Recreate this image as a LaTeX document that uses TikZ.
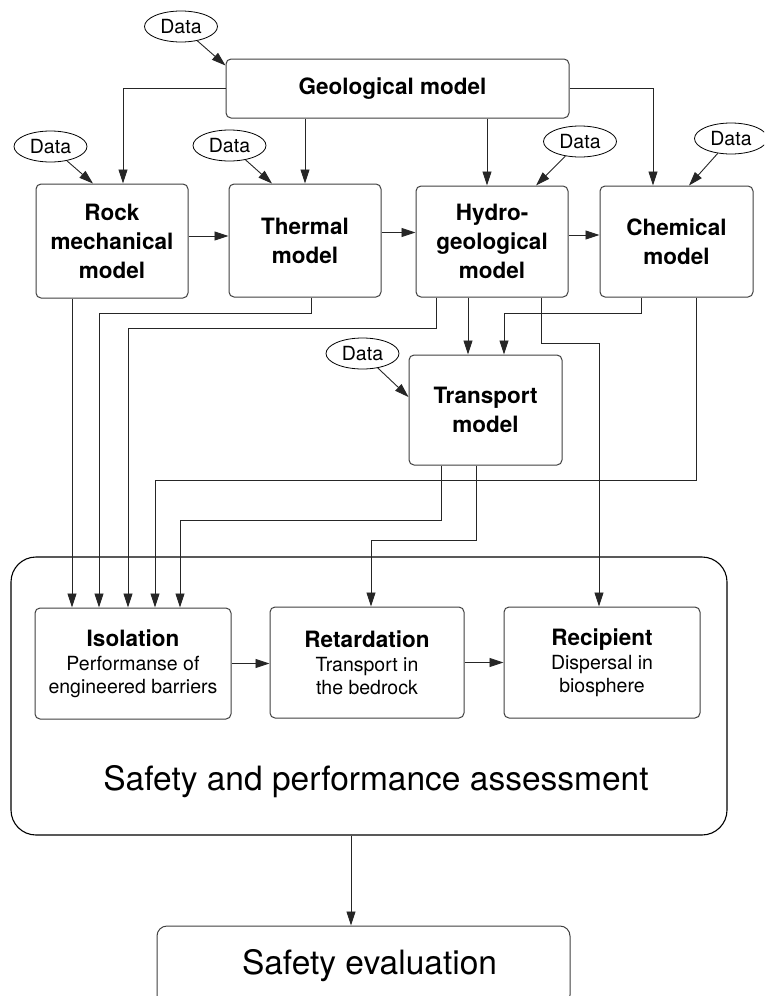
\documentclass[tikz,border=0pt]{standalone}
\usepackage{fontspec}
\setmainfont{TeX Gyre Heros}
\usetikzlibrary{arrows.meta,shapes.geometric}
\newcommand\mytitlef{\fontsize{22.5}{29}\selectfont\bfseries}
\newcommand\mysubf{\fontsize{19.5}{23}\selectfont}
\newcommand\mydataf{\fontsize{19.5}{23}\selectfont}
\newcommand\mybigf{\fontsize{33.5}{40}\selectfont}
\begin{document}
\begin{tikzpicture}[x=1pt,y=-1pt,
 modelbox/.style={draw=black!75, line width=1pt, rounded corners=5pt, align=center, font=\mytitlef, inner sep=0pt},
 assessbox/.style={modelbox, font=\mysubf},
 databubble/.style={ellipse, draw=black, line width=0.8pt, inner sep=0pt, minimum width=73pt, minimum height=31pt, font=\mydataf},
 arr/.style={draw=black!85, line width=0.9pt, -{Triangle[length=14pt,width=9pt]}},
]
\useasboundingbox (0,0) rectangle (764,996);
\clip (0,0) rectangle (764,996);
\fill[white] (0,0) rectangle (764,996);

% model boxes
\node[modelbox, minimum width=343pt, minimum height=59pt] (geo) at (397.5,88.5) {Geological model\hspace{10pt}};
\node[modelbox, minimum width=152pt, minimum height=114pt] (rock) at (112,241) {Rock\\mechanical\\model};
\node[modelbox, minimum width=152pt, minimum height=113pt] (thermal) at (305,240.5) {Thermal\\model};
\node[modelbox, minimum width=152pt, minimum height=111pt] (hydro) at (492,241.5) {Hydro-\\geological\\model};
\node[modelbox, minimum width=153pt, minimum height=111pt] (chem) at (676.5,241.5) {Chemical\\model};
\node[modelbox, minimum width=153pt, minimum height=110pt] (transport) at (485.5,410) {Transport\\model};

% assessment frame
\node[draw=black, line width=1.1pt, rounded corners=25pt, minimum width=716pt, minimum height=278pt, inner sep=0pt] (spa) at (369,696) {};
\node[font=\mybigf, anchor=base, inner sep=0pt] (spat) at (376,790) {Safety and performance assessment};

\node[assessbox, minimum width=196pt, minimum height=111pt] (iso) at (133,663.5) {{\mytitlef Isolation}\\[1pt]Performanse of\\engineered barriers};
\node[assessbox, minimum width=194pt, minimum height=111pt] (ret) at (367,662.5) {{\mytitlef Retardation}\\[1pt]Transport in\\the bedrock};
\node[assessbox, minimum width=196pt, minimum height=111pt] (rec) at (602,662.5) {{\mytitlef Recipient}\\[1pt]Dispersal in\\biosphere};

\node[draw=black!75, line width=1pt, rounded corners=10pt, minimum width=413pt, minimum height=79pt, inner sep=0pt, font=\mybigf] (eval) at (363.5,965.5) {\hspace{12pt}Safety evaluation};

% data bubbles
\node[databubble] (d0) at (181,26.5) {Data};
\node[databubble] (d1) at (50.5,146.5) {Data};
\node[databubble] (d2) at (229.5,145.5) {Data};
\node[databubble] (d3) at (580,141.5) {Data};
\node[databubble] (d4) at (731,138.5) {Data};
\node[databubble] (d5) at (362.5,353.5) {Data};

% data arrows
\draw[arr] (d0) -- ([yshift=-7pt]geo.north west);
\draw[arr] (d1) -- ([xshift=-19pt]rock.north);
\draw[arr] (d2) -- ([xshift=-33pt]thermal.north);
\draw[arr] (d3) -- ([xshift=44pt]hydro.north);
\draw[arr] (d4) -- ([xshift=12.5pt]chem.north);
\draw[arr] (d5) -- ([yshift=13pt]transport.west);

% geological model outputs
\draw[arr] (geo.west) -| ([xshift=11pt]rock.north);
\draw[arr] (geo.east) -| ([xshift=-23.5pt]chem.north);
\draw[arr] (geo.south -| thermal.north) -- (thermal.north);
\coordinate (hN) at ([xshift=-5pt]hydro.north);
\draw[arr] (hN |- geo.south) -- (hN);

% horizontal links
\coordinate (rtA) at ([yshift=5pt]rock.east);
\draw[arr] (rtA) -- (rtA -| thermal.west);
\coordinate (thA) at ([yshift=8pt]thermal.east);
\draw[arr] (thA) -- (thA -| hydro.west);
\coordinate (hcA) at ([yshift=6.5pt]hydro.east);
\draw[arr] (hcA) -- (hcA -| chem.west);

% to isolation
\coordinate (r1) at ([xshift=-40pt]rock.south);
\draw[arr] (r1) -- (r1 |- iso.north);
\draw[arr] ([xshift=6pt]thermal.south) -- ++(0,16) -| ([xshift=-34pt]iso.north);
\draw[arr] ([xshift=-56pt]hydro.south) -- ++(0,31) -| ([xshift=-5pt]iso.north);
\draw[arr] ([xshift=19.5pt]chem.south) -- ++(0,183) -| ([xshift=22pt]iso.north);
\draw[arr] ([xshift=-44.5pt]transport.south) -- ++(0,55) -| ([xshift=47pt]iso.north);

% to transport
\coordinate (h2) at ([xshift=-24pt]hydro.south);
\draw[arr] (h2) -- (h2 |- transport.north);
\draw[arr] ([xshift=-35.5pt]chem.south) -- ++(0,16) -| ([xshift=18.5pt]transport.north);

% to retardation and recipient
\draw[arr] ([xshift=-9.5pt]transport.south) -- ++(0,74.5) -| ([xshift=4pt]ret.north);
\draw[arr] ([xshift=49pt]hydro.south) -- ++(0,46) -| ([xshift=-3pt]rec.north);
\draw[arr] (iso.east) -- (iso.east -| ret.west);
\draw[arr] (ret.east) -- (ret.east -| rec.west);

% to safety evaluation
\coordinate (s1) at ([xshift=-18pt]spa.south);
\draw[arr] (s1) -- (s1 |- eval.north);
\end{tikzpicture}
\end{document}
